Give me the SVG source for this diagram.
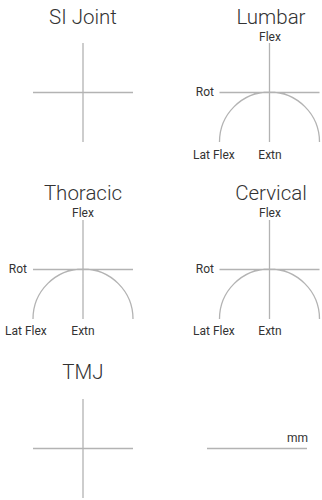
<svg xmlns="http://www.w3.org/2000/svg" width="322" height="500" viewBox="0 0 322 500">
<style>
.t{font-family:"Roboto","Liberation Sans",sans-serif;font-size:20.5px;font-weight:300;fill:#333;text-anchor:middle}
.s{font-family:"Roboto","Liberation Sans",sans-serif;font-size:12px;fill:#333}
.m{text-anchor:middle}
.e{text-anchor:end}
.l{stroke:#b3b3b3;stroke-width:1.3;fill:none}
</style>
<rect width="322" height="500" fill="#fff"/>
<g id="si-joint">
<text class="t" x="83" y="24">SI Joint</text>
<path class="l" d="M83 43V142M33 92.5H133"/>
</g>
<g id="lumbar">
<text class="t" x="271" y="24">Lumbar</text>
<text class="s m" x="270" y="41">Flex</text>
<text class="s e" x="214" y="96">Rot</text>
<text class="s" x="193" y="159">Lat Flex</text>
<text class="s m" x="270" y="159">Extn</text>
<path class="l" d="M269.5 43V142M219.5 92.5H319.5M219.5 142A50 50 0 0 1 319.5 142"/>
</g>
<g id="thoracic">
<text class="t" x="83" y="200">Thoracic</text>
<text class="s m" x="83" y="217">Flex</text>
<text class="s e" x="27" y="273">Rot</text>
<text class="s" x="5" y="335">Lat Flex</text>
<text class="s m" x="83" y="335">Extn</text>
<path class="l" d="M83 220V319M33 269.5H133M33 319A50 50 0 0 1 133 319"/>
</g>
<g id="cervical">
<text class="t" x="271" y="200">Cervical</text>
<text class="s m" x="270" y="217">Flex</text>
<text class="s e" x="214" y="273">Rot</text>
<text class="s" x="193" y="335">Lat Flex</text>
<text class="s m" x="270" y="335">Extn</text>
<path class="l" d="M269.5 220V319M219.5 269.5H319.5M219.5 319A50 50 0 0 1 319.5 319"/>
</g>
<g id="tmj">
<text class="t" x="83" y="379">TMJ</text>
<path class="l" d="M83 399V498M33 448.5H133"/>
</g>
<g id="mm">
<text class="s e" x="308" y="442">mm</text>
<path class="l" d="M207 448.5H307"/>
</g>
</svg>
